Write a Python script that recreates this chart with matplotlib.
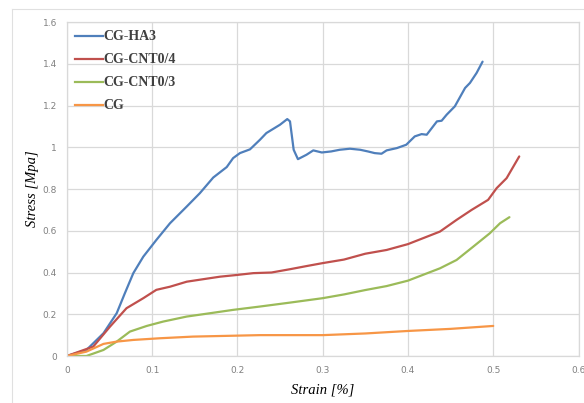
import matplotlib
matplotlib.use("Agg")
import matplotlib.pyplot as plt
from matplotlib.lines import Line2D

ha3_strain = [0, 0.023, 0.043, 0.0585, 0.068, 0.078, 0.0897, 0.105, 0.121, 0.1406, 0.156,
              0.1717, 0.1875, 0.195, 0.203, 0.2148, 0.2265, 0.234, 0.25, 0.2585, 0.2617,
              0.266, 0.271, 0.281, 0.289, 0.299, 0.310, 0.320, 0.332, 0.344, 0.353, 0.361,
              0.369, 0.375, 0.387, 0.398, 0.408, 0.416, 0.422, 0.434, 0.4395, 0.4454, 0.455,
              0.467, 0.4727, 0.4805, 0.4875]
ha3_stress = [0, 0.029, 0.109, 0.205, 0.30, 0.397, 0.476, 0.556, 0.636, 0.716, 0.780,
              0.855, 0.905, 0.948, 0.972, 0.990, 1.036, 1.068, 1.108, 1.135, 1.124,
              0.988, 0.943, 0.964, 0.985, 0.975, 0.980, 0.988, 0.993, 0.988, 0.980, 0.972,
              0.969, 0.985, 0.996, 1.012, 1.052, 1.063, 1.060, 1.124, 1.127, 1.156, 1.196,
              1.284, 1.308, 1.356, 1.41]

cnt04_strain = [0, 0.031, 0.0507, 0.070, 0.0897, 0.105, 0.121, 0.1406, 0.160, 0.1796, 0.199,
                0.2187, 0.240, 0.262, 0.280, 0.300, 0.325, 0.350, 0.375, 0.400, 0.4375,
                0.457, 0.4747, 0.494, 0.504, 0.5157, 0.5305]
cnt04_stress = [0, 0.045, 0.141, 0.229, 0.277, 0.317, 0.332, 0.356, 0.368, 0.380, 0.388,
                0.397, 0.400, 0.416, 0.430, 0.445, 0.462, 0.490, 0.508, 0.536, 0.596,
                0.652, 0.700, 0.748, 0.804, 0.852, 0.956]

cnt03_strain = [0, 0.023, 0.043, 0.0585, 0.074, 0.0937, 0.113, 0.1406, 0.168, 0.195, 0.2265,
                0.262, 0.300, 0.325, 0.350, 0.375, 0.400, 0.4375, 0.457, 0.4766, 0.496,
                0.508, 0.519]
cnt03_stress = [0, 0, 0.029, 0.069, 0.117, 0.144, 0.165, 0.189, 0.205, 0.221, 0.237,
                0.256, 0.277, 0.295, 0.316, 0.335, 0.361, 0.420, 0.460, 0.524, 0.588,
                0.636, 0.665]

cg_strain = [0, 0.023, 0.043, 0.0585, 0.078, 0.109, 0.148, 0.2265, 0.262, 0.300, 0.350,
             0.400, 0.450, 0.500]
cg_stress = [0, 0.021, 0.058, 0.069, 0.077, 0.085, 0.093, 0.100, 0.100, 0.100, 0.108,
             0.120, 0.130, 0.144]

labels = ["CG-HA3", "CG-CNT0/4", "CG-CNT0/3", "CG"]
colors = ["#4f7fbb", "#c0504d", "#9bbb59", "#f79646"]

x_ticks = [0, 0.1, 0.2, 0.3, 0.4, 0.5, 0.6]
x_tick_labels = ["0", "0.1", "0.2", "0.3", "0.4", "0.5", "0.6"]
y_ticks = [0, 0.2, 0.4, 0.6, 0.8, 1.0, 1.2, 1.4, 1.6]
y_tick_labels = ["0", "0.2", "0.4", "0.6", "0.8", "1", "1.2", "1.4", "1.6"]

fig = plt.figure(figsize=(5.84, 4.03), dpi=100)
ax = fig.add_axes([0.1144, 0.1166, 0.8762, 0.8288])

series = [(ha3_strain, ha3_stress), (cnt04_strain, cnt04_stress),
          (cnt03_strain, cnt03_stress), (cg_strain, cg_stress)]
for (xs, ys), lab, col in zip(series, labels, colors):
    ax.plot(xs, ys, color=col, lw=1.6, label=lab, solid_capstyle="round")

ax.set_xlim(0, 0.6)
ax.set_ylim(0, 1.6)
ax.set_xticks(x_ticks)
ax.set_xticklabels(x_tick_labels)
ax.set_yticks(y_ticks)
ax.set_yticklabels(y_tick_labels)
ax.tick_params(length=0, labelsize=6.5, labelcolor="#808080", pad=7)
ax.grid(True, color="#d9d9d9", lw=0.9)
ax.set_axisbelow(True)
for sp in ax.spines.values():
    sp.set_color("#d9d9d9")
    sp.set_linewidth(0.9)

serif = ["Liberation Serif", "DejaVu Serif"]
ax.set_xlabel("Strain [%]", family=serif, style="italic", fontsize=10.5, labelpad=6)
ax.set_ylabel("Stress [Mpa]", family=serif, style="italic", fontsize=10.5, labelpad=3)

handles = [Line2D([0], [0], color=c, lw=1.6) for c in colors]
leg = ax.legend(handles, labels, loc="upper left", bbox_to_anchor=(-0.008, 1.012),
                frameon=False, handlelength=2.0, handletextpad=0.0,
                labelspacing=0.72, prop={"family": serif, "weight": "bold", "size": 10})
for t in leg.get_texts():
    t.set_color("#404040")

# faint outer chart border (left and top)
fig.add_artist(Line2D([12 / 584, 12 / 584], [0, 1 - 9 / 403], color="#e0e0e0", lw=0.8))
fig.add_artist(Line2D([12 / 584, 1], [1 - 9 / 403, 1 - 9 / 403], color="#e0e0e0", lw=0.8))

fig.savefig("out.png", dpi=100)
